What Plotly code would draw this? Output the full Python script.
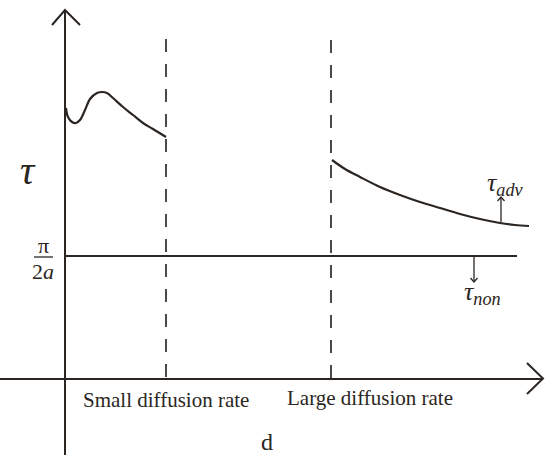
import plotly.graph_objects as go

# Schematic coordinates (canvas units, y downward)
axis_x = 65
axis_y = 379
level_pi_2a = 256

small_x = [66, 68, 72, 76, 80, 85, 90, 97, 102, 107, 113, 123, 133, 143, 153, 166]
small_y = [108, 117, 122, 123, 120, 110, 99, 93, 92, 93, 98, 107, 115, 123, 129, 137]

large_x = [332, 345, 360, 380, 400, 420, 440, 460, 480, 500, 515, 529]
large_y = [160, 169, 177, 187, 195, 202, 208, 214, 219, 223, 225, 226]

dash_x = [166, 331]
dash_top = [39, 40]

INK = "#2b2622"
FONT = "Liberation Serif, DejaVu Serif, serif"

fig = go.Figure()

def line(xs, ys, width=2, dash=None, shape="linear", color=INK):
    fig.add_trace(go.Scatter(x=xs, y=ys, mode="lines",
                             line=dict(color=color, width=width, dash=dash, shape=shape),
                             hoverinfo="skip", showlegend=False))

# axes
line([axis_x, axis_x], [455, 10], width=2)
line([52, axis_x, 80], [25, 10, 25], width=2)
line([0, 543], [axis_y, axis_y], width=2)
line([527, 543, 527], [363, 378.5, 394], width=2)

# dashed region separators
for dx, dt in zip(dash_x, dash_top):
    line([dx, dx], [dt, axis_y], width=1.8, dash="13px,12px", color="#3a3633")

# tau_non level
line([axis_x, 517], [level_pi_2a, level_pi_2a], width=2)

# curves
line(small_x, small_y, width=2.2, shape="spline")
line(large_x, large_y, width=2.2, shape="spline")

# small label arrows
line([501, 501], [222, 197], width=1.3)
line([497.5, 501, 504.5], [201, 197, 201], width=1.3)
line([474, 474], [257, 282], width=1.3)
line([470.5, 474, 477.5], [278, 282, 278], width=1.3)

# fraction bar
line([34, 53], [257, 257], width=1.3)

ann = []
def text(x, y, s, size, xanchor="center"):
    ann.append(dict(x=x, y=y, text=s, showarrow=False, xanchor=xanchor, yanchor="middle",
                    font=dict(family=FONT, size=size, color=INK)))

text(28, 170, "<i>τ</i>", 40)
text(43, 245, "π", 22)
text(43, 271, "2<i>a</i>", 22)
text(505, 184, "<i>τ<sub>adv</sub></i>", 26)
text(482, 293, "<i>τ<sub>non</sub></i>", 26)
text(166, 400, "Small diffusion rate", 21)
text(370, 398, "Large diffusion rate", 21)
text(267, 442, "d", 24)

fig.update_layout(
    width=545, height=455,
    margin=dict(l=0, r=0, t=0, b=0),
    paper_bgcolor="white", plot_bgcolor="white",
    xaxis=dict(range=[0, 545], visible=False, fixedrange=True),
    yaxis=dict(range=[455, 0], visible=False, fixedrange=True),
    annotations=ann,
)

fig.write_html("out.html")
